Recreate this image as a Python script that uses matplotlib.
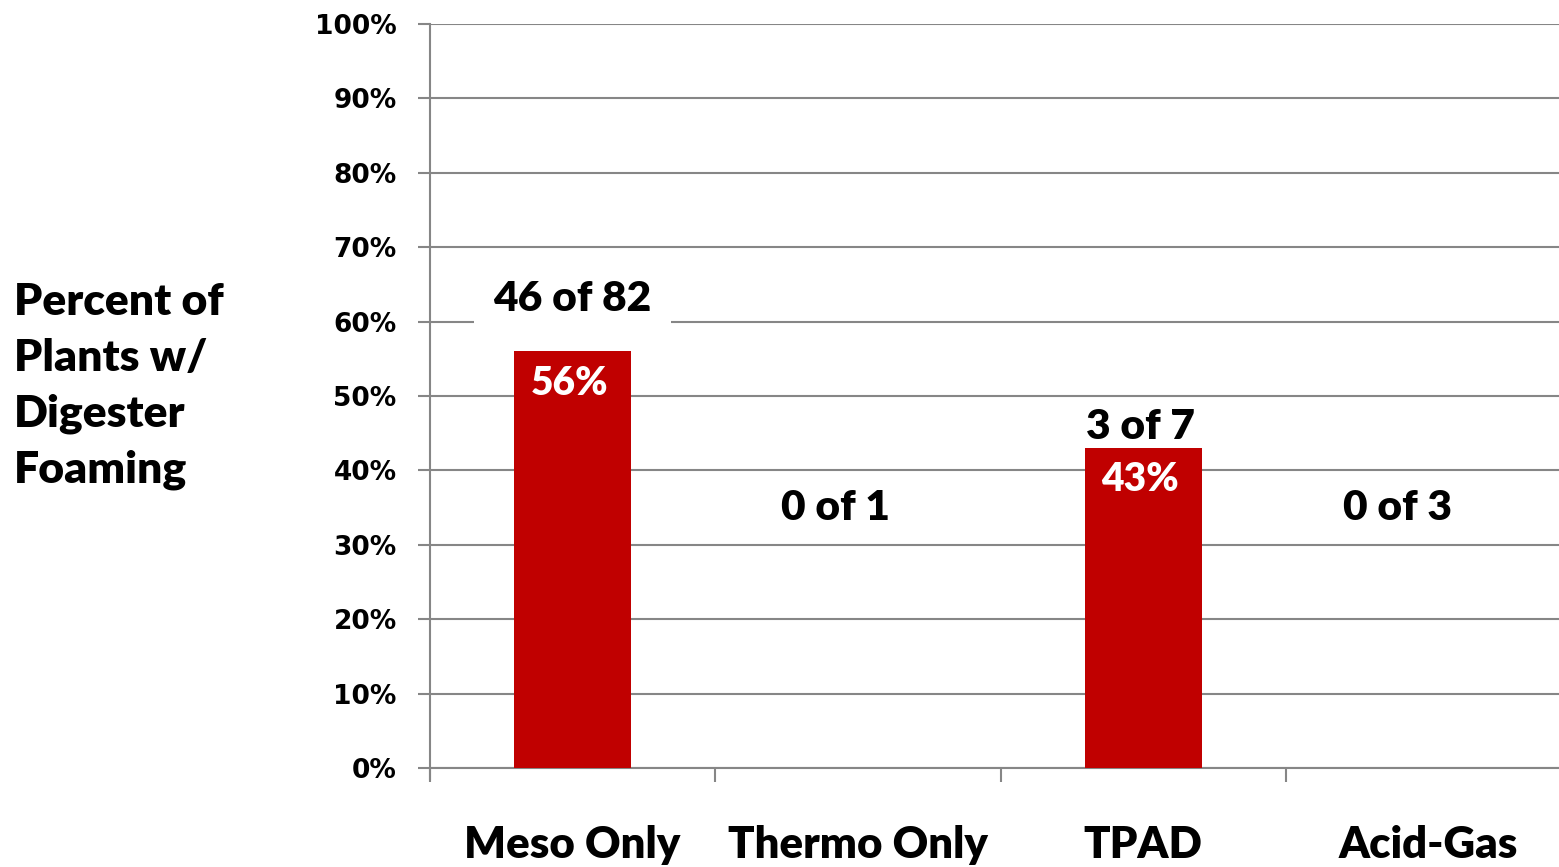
import numpy as np
import matplotlib
matplotlib.use("Agg")
import matplotlib.pyplot as plt

# data
categories = ["Meso Only", "Thermo Only", "TPAD", "Acid-Gas"]
percent_foaming = [56, 0, 43, 0]
count_labels = ["46 of 82", "0 of 1", "3 of 7", "0 of 3"]
pct_labels = ["56%", "", "43%", ""]
yticks = np.arange(0, 101, 10)

bar_color = "#C00000"
grid_color = "#868686"
label_font = "Lato"
label_weight = "heavy"

fig = plt.figure(figsize=(15.59, 8.67), dpi=100)
# the plot area runs slightly past the right edge in the original
ax = fig.add_axes([0.2758, 0.1142, 0.732, 0.8581])

x = np.arange(len(categories)) + 0.5
ax.bar(x, percent_foaming, width=0.41, color=bar_color, zorder=3)

ax.set_xlim(0, len(categories))
ax.set_ylim(0, 100)

# gridlines
ax.set_yticks(yticks)
ax.set_yticklabels([f"{v}%" for v in yticks], fontsize=19, fontweight="bold",
                   family="DejaVu Sans")
ax.yaxis.grid(True, color=grid_color, linewidth=1.5, zorder=0)
ax.tick_params(axis="y", length=9, width=1.5, color=grid_color, pad=15)

# category boundaries as x ticks
ax.set_xticks(np.arange(len(categories) + 1))
ax.set_xticklabels([])
ax.tick_params(axis="x", length=10, width=1.5, color=grid_color)
for xi, name in zip(x, categories):
    ax.text(xi, -10.3, name, ha="center", va="center", fontsize=31.5,
            fontweight=label_weight, family=label_font, clip_on=False)

for side in ["top", "right"]:
    ax.spines[side].set_visible(False)
for side in ["left", "bottom"]:
    ax.spines[side].set_color(grid_color)
    ax.spines[side].set_linewidth(1.5)
ax.spines["left"].set_bounds(-1.5, 100)

# "n of m" labels (the zero ones sit a bit left of the category centre)
count_x = [0.5, 1.42, 2.49, 3.39]
count_y = [63, 35, 45.8, 35]
for xi, yv, txt in zip(count_x, count_y, count_labels):
    t = ax.text(xi, yv, txt, ha="center", va="center", fontsize=30.5,
                fontweight=label_weight, family=label_font, zorder=4)
    if txt == "46 of 82":
        t.set_bbox(dict(facecolor="white", edgecolor="none", pad=14))

# percent inside bars
pct_y = [51.7, 0, 38.8, 0]
for xi, yv, txt in zip(x, pct_y, pct_labels):
    if txt:
        ax.text(xi - 0.01, yv, txt, ha="center", va="center", fontsize=28,
                fontweight=label_weight, family=label_font, color="white",
                zorder=4)

fig.text(14 / 1559, 1 - 386 / 867, "Percent of\nPlants w/\nDigester\nFoaming",
         ha="left", va="center", fontsize=32, fontweight=label_weight,
         family=label_font, linespacing=1.48)

fig.savefig("out.png", dpi=100)
